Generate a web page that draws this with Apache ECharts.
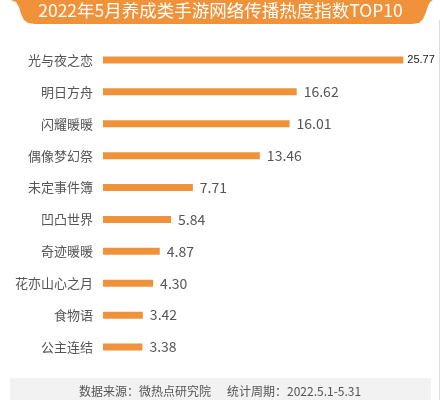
<!DOCTYPE html>
<html>
<head>
<meta charset="utf-8">
<script src="https://cdn.jsdelivr.net/npm/echarts@6/dist/echarts.min.js"></script>
<style>
html,body{margin:0;padding:0;background:#fff;}
#c{width:441px;height:400px;}
</style>
</head>
<body>
<div id="c"></div>
<script>
var titleText = '2022年5月养成类手游网络传播热度指数TOP10';
var footerText = '数据来源：微热点研究院      统计周期：2022.5.1-5.31';
var categories = ['光与夜之恋','明日方舟','闪耀暖暖','偶像梦幻祭','未定事件簿','凹凸世界','奇迹暖暖','花亦山心之月','食物语','公主连结'];
var values = [25.77,16.62,16.01,13.46,7.71,5.84,4.87,4.30,3.42,3.38];
var labelTexts = ['25.77','16.62','16.01','13.46','7.71','5.84','4.87','4.30','3.42','3.38'];

var font = '"Noto Sans CJK SC","Noto Sans",sans-serif';
var chart = echarts.init(document.getElementById('c'), null, {renderer:'canvas'});
var seriesData = values.map(function(v,i){
  var item = {value:v, label:{formatter: labelTexts[i]}};
  if (i === 0) {
    item.label = {formatter: labelTexts[i], fontSize: 11, color: '#1a1a1a', distance: 4, fontFamily: '"Liberation Sans",Arial,sans-serif'};
  }
  return item;
});
var bannerPts = [[11,0],[16,2],[19,7],[21,14],[24,20],[28,23],[35,24],[412,24],[419,23],[423,19],[426,12],[428,6],[430,2],[433,0]];
chart.setOption({
  backgroundColor:'#fff',
  animation:false,
  grid:{left:103,right:35,top:44,bottom:37},
  xAxis:{type:'value',min:0,max:26,show:false},
  yAxis:{type:'category',data:categories,inverse:true,
    axisLine:{show:false},axisTick:{show:false},splitLine:{show:false},
    axisLabel:{color:'#555',fontSize:13,margin:10,fontFamily:font}},
  series:[{type:'bar',data:seriesData,barWidth:7,
    itemStyle:{color:'#f0923a'},
    label:{show:true,position:'right',distance:7,color:'#555',fontSize:14,fontFamily:font}}],
  graphic:[
    {type:'polygon',shape:{points:bannerPts},style:{fill:'#f0923a'},z:1},
    {type:'text',left:'center',top:2,style:{text:titleText,fill:'#fff',fontSize:17.5,fontFamily:font},z:2},
    {type:'rect',shape:{x:10,y:378,width:421,height:22},style:{fill:'#f2f2f2'},z:1},
    {type:'text',x:220,y:391,style:{text:footerText,fill:'#555',fontSize:12,fontFamily:font,align:'center',verticalAlign:'middle'},z:2},
    {type:'line',shape:{x1:439.5,y1:20,x2:439.5,y2:400},style:{stroke:'#dcdcdc',lineWidth:1},z:1}
  ]
});
</script>
</body>
</html>
